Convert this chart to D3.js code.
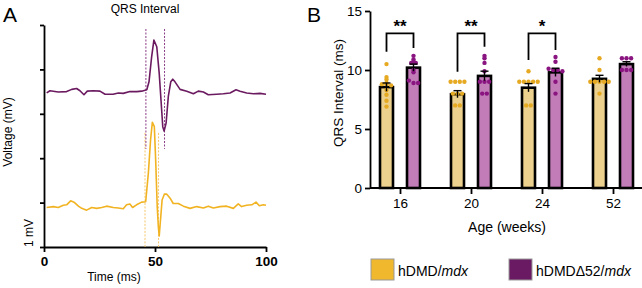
<!DOCTYPE html>
<html lang="en">
<head>
<meta charset="UTF-8">
<title>QRS Interval</title>
<script src="https://d3js.org/d3.v7.min.js"></script>
<style>
  body { margin: 0; background: #fff; }
  svg { font-family: "Liberation Sans", Arial, sans-serif; display: block; }
</style>
</head>
<body>
<div id="chart"></div>
<script>
// ---- panel A: ECG traces, [time ms, voltage mV]
const purpleTrace = [
  [1.2,3.47],[2.7,3.52],[6.4,3.49],[10.2,3.50],[12.5,3.55],[14.7,3.57],[16.2,3.52],[18.0,3.43],
  [19.5,3.51],[22.2,3.52],[25.2,3.51],[27.5,3.44],[31.1,3.44],[33.5,3.47],[35.7,3.46],[38.7,3.50],
  [41.8,3.50],[44.0,3.51],[46.3,3.54],[47.3,3.72],[48.5,4.29],[49.5,4.66],[50.8,4.51],[51.9,3.91],
  [52.7,3.31],[53.5,2.71],[54.1,2.61],[55.0,2.79],[56.0,3.39],[57.1,3.72],[58.0,3.78],[59.0,3.72],
  [61.3,3.55],[64.3,3.51],[67.3,3.45],[69.5,3.51],[71.8,3.49],[74.0,3.43],[77.8,3.44],[80.8,3.45],
  [83.8,3.47],[86.5,3.54],[88.3,3.51],[91.3,3.47],[94.3,3.45],[97.3,3.46],[100,3.44]
];
const orangeTrace = [
  [1.2,0.89],[4.2,0.91],[6.4,0.89],[8.7,0.94],[10.2,0.95],[12.0,1.04],[13.5,1.01],[15.5,0.92],
  [17.0,0.87],[19.2,0.83],[21.5,0.89],[23.7,0.87],[26.0,0.89],[28.2,0.92],[31.2,0.89],[33.5,0.88],
  [35.7,0.86],[37.2,0.95],[38.7,0.97],[39.9,0.89],[41.7,0.95],[44.0,1.01],[45.8,1.02],[47.0,1.66],
  [48.0,2.41],[48.8,2.81],[49.7,2.71],[50.3,1.96],[51.0,0.91],[51.5,0.46],[51.9,0.25],[52.6,0.68],
  [53.2,1.06],[54.2,1.19],[55.3,1.19],[56.8,1.10],[58.2,0.98],[60.5,0.98],[62.8,0.92],[65.8,0.87],
  [68.8,0.91],[71.8,0.88],[74.0,0.92],[76.3,0.88],[79.3,0.91],[82.3,0.92],[85.3,0.87],[87.5,0.97],
  [89.0,0.91],[91.3,0.94],[93.6,0.95],[95.5,1.01],[97.0,0.93],[98.8,0.95],[100,0.94]
];
// QRS markers: [time, from mV, to mV]
const purpleMarks = [[45.9,4.91,2.21],[54.3,4.91,2.21]];
const orangeMarks = [[45.5,2.57,0],[51.6,2.57,0]];
const timeTicks = [0, 50, 100];
const voltTicks = [0, 1, 2, 3, 4, 5];

// ---- panel B: QRS interval by age
const ages = ["16", "20", "24", "52"];
const groups = ["hDMD/mdx", "hDMD\u039452/mdx"];
const meanCtrl = [8.55, 7.95, 8.5, 9.25];
const meanDel  = [10.2, 9.5, 9.8, 10.5];
const semCtrl  = [0.35, 0.3, 0.35, 0.3];
const semDel   = [0.3, 0.4, 0.35, 0.2];
const ptsCtrl = [
  [10.5, 9.4, 9.2, 8.9, 8.8, 8.8, 8.7, 8.3, 7.9, 7.4, 6.9],
  [9.0, 9.0, 9.0, 9.0, 8.0, 8.0, 8.0, 7.0, 7.0],
  [9.9, 9.0, 9.0, 9.0, 9.0, 9.0, 7.0, 7.0],
  [11.0, 10.0, 9.0, 9.0, 9.0, 9.0, 9.0, 8.0]
];
const ptsDel = [
  [11.2, 10.9, 10.7, 10.6, 10.6, 10.0, 9.8, 9.1, 8.9, 8.9],
  [11.2, 11.0, 10.6, 9.9, 9.0, 9.0, 9.0, 8.0, 8.0],
  [11.1, 10.7, 10.1, 10.0, 10.0, 9.9, 9.0, 8.0],
  [11.0, 11.0, 11.0, 10.0, 10.0, 10.0]
];
// significance: age, left leg bottom, right leg bottom, label
const sigAges  = ["16", "20", "24"];
const sigLeft  = [11.55, 9.86, 10.85];
const sigRight = [11.86, 11.97, 11.7];
const sigText  = ["**", "**", "*"];
const intervalTicks = [0, 5, 10, 15];

const W = 642, H = 288;
const svg = d3.select("#chart").append("svg").attr("width", W).attr("height", H);

// ================= panel A =================
const xA = d3.scaleLinear().domain([0, 100]).range([44, 266]);
const yA = d3.scaleLinear().domain([0, 5]).range([247, 25]);

const gA = svg.append("g");
gA.append("g")
  .attr("transform", `translate(0,${yA(0)})`)
  .call(d3.axisBottom(xA).tickValues(timeTicks).tickSize(5).tickSizeOuter(0).tickPadding(4))
  .call(g => g.selectAll("text").attr("font-size", 13.5).attr("font-weight", "bold").attr("fill", "#000"));
gA.append("g")
  .attr("transform", `translate(${xA(0)},0)`)
  .call(d3.axisLeft(yA).tickValues(voltTicks).tickSize(4).tickSizeOuter(0).tickFormat(""));
gA.selectAll(".domain, .tick line").attr("stroke", "#000").attr("stroke-width", 1.8);

function marks(data, color) {
  gA.selectAll(null).data(data).enter().append("line")
    .attr("x1", d => xA(d[0])).attr("x2", d => xA(d[0]))
    .attr("y1", d => yA(d[1])).attr("y2", d => yA(d[2]))
    .attr("stroke", color).attr("stroke-width", 1).attr("stroke-dasharray", "2,1.5");
}
marks(orangeMarks, "#f6c66a");
marks(purpleMarks, "#8a3a86");

const line = d3.line().x(d => xA(d[0])).y(d => yA(d[1]));
gA.append("path").datum(orangeTrace).attr("d", line)
  .attr("fill", "none").attr("stroke", "#f1b322").attr("stroke-width", 1.6).attr("stroke-linejoin", "round");
gA.append("path").datum(purpleTrace).attr("d", line)
  .attr("fill", "none").attr("stroke", "#6b1a60").attr("stroke-width", 1.6).attr("stroke-linejoin", "round");

gA.append("text").attr("x", 3).attr("y", 22).attr("font-size", 21).text("A");
gA.append("text").attr("x", 145).attr("y", 13).attr("text-anchor", "middle").attr("font-size", 12).text("QRS Interval");
gA.append("text").attr("x", 114).attr("y", 281).attr("text-anchor", "middle").attr("font-size", 12).text("Time (ms)");
gA.append("text").attr("transform", "translate(12,132) rotate(-90)").attr("text-anchor", "middle")
  .attr("font-size", 12).text("Voltage (mV)");
gA.append("text").attr("transform", "translate(33,233) rotate(-90)").attr("text-anchor", "middle")
  .attr("font-size", 12).text("1 mV");

// ================= panel B =================
const xB = d3.scalePoint().domain(ages).range([400, 613]);
const yB = d3.scaleLinear().domain([0, 15]).range([188, 11]);
const off = d3.scalePoint().domain(groups).range([-13.5, 13.5]);
const barW = 13;
const fills = ["#ecd08d", "#c27db9"];
const dotC = ["#e6a922", "#8a1581"];

const gB = svg.append("g");
gB.append("g")
  .attr("transform", `translate(370,0)`)
  .call(d3.axisLeft(yB).tickValues(intervalTicks).tickSize(5).tickSizeOuter(0).tickPadding(3))
  .call(g => g.selectAll("text").attr("font-size", 13.5).attr("fill", "#000"));
gB.append("g")
  .attr("transform", `translate(0,${yB(0)})`)
  .call(d3.axisBottom(xB).tickSize(6).tickPadding(4))
  .call(g => g.select(".domain").attr("d", `M370,0H${W}`))
  .call(g => g.selectAll("text").attr("font-size", 13.5).attr("fill", "#000"));
gB.selectAll(".domain, .tick line").attr("stroke", "#000").attr("stroke-width", 1.8);

const bars = [];
ages.forEach((a, i) => {
  bars.push({ a, g: 0, mean: meanCtrl[i], sem: semCtrl[i], pts: ptsCtrl[i] });
  bars.push({ a, g: 1, mean: meanDel[i], sem: semDel[i], pts: ptsDel[i] });
});
const cx = d => xB(d.a) + off(groups[d.g]);

gB.selectAll(".bar").data(bars).enter().append("rect")
  .attr("x", d => cx(d) - barW / 2).attr("width", barW)
  .attr("y", d => yB(d.mean)).attr("height", d => yB(0) - yB(d.mean))
  .attr("fill", d => fills[d.g]).attr("stroke", "#000").attr("stroke-width", 2.6);

// simple beeswarm: rows of nearly equal values spread sideways
const dots = [];
bars.forEach(b => {
  const rows = d3.groups(b.pts, v => Math.round(v * 4) / 4);
  rows.forEach(([, vals]) => {
    vals.forEach((v, k) => {
      dots.push({ x: cx(b) + (k - (vals.length - 1) / 2) * 4.6, v, g: b.g });
    });
  });
});
gB.selectAll(".dot").data(dots).enter().append("circle")
  .attr("cx", d => d.x).attr("cy", d => yB(d.v)).attr("r", 2.2)
  .attr("fill", d => dotC[d.g]);

const eb = gB.selectAll(".eb").data(bars).enter().append("g");
eb.append("line")
  .attr("x1", cx).attr("x2", cx)
  .attr("y1", d => yB(d.mean - d.sem)).attr("y2", d => yB(d.mean + d.sem))
  .attr("stroke", "#000").attr("stroke-width", 1.4);
eb.append("line")
  .attr("x1", d => cx(d) - 4).attr("x2", d => cx(d) + 4)
  .attr("y1", d => yB(d.mean + d.sem)).attr("y2", d => yB(d.mean + d.sem))
  .attr("stroke", "#000").attr("stroke-width", 1.4);

// significance brackets
const sig = sigAges.map((a, i) => ({ a, l: sigLeft[i], r: sigRight[i], t: sigText[i] }));
const sigTop = 13.1;
gB.selectAll(".sig").data(sig).enter().append("path")
  .attr("d", d => {
    const x1 = xB(d.a) + off(groups[0]), x2 = xB(d.a) + off(groups[1]);
    return `M${x1},${yB(d.l)}V${yB(sigTop)}H${x2}V${yB(d.r)}`;
  })
  .attr("fill", "none").attr("stroke", "#000").attr("stroke-width", 1.8);
gB.selectAll(".star").data(sig).enter().append("text")
  .attr("x", d => xB(d.a)).attr("y", yB(sigTop) - 1)
  .attr("text-anchor", "middle").attr("font-size", 17).attr("font-weight", "bold")
  .text(d => d.t);

gB.append("text").attr("x", 307).attr("y", 22).attr("font-size", 21).text("B");
gB.append("text").attr("transform", "translate(343,93) rotate(-90)").attr("text-anchor", "middle")
  .attr("font-size", 13.5).text("QRS Interval (ms)");
gB.append("text").attr("x", 507).attr("y", 232).attr("text-anchor", "middle")
  .attr("font-size", 14).text("Age (weeks)");

// legend
const legX = [371, 509];
const leg = gB.selectAll(".leg").data(groups).enter().append("g")
  .attr("transform", (d, i) => `translate(${legX[i]},259)`);
leg.append("rect").attr("width", 23).attr("height", 21)
  .attr("fill", (d, i) => ["#f0b82d", "#6a1a62"][i]).attr("stroke", "#999").attr("stroke-width", 1);
leg.append("text").attr("x", 27).attr("y", 17).attr("font-size", 14)
  .each(function(d) {
    const parts = d.split("/");
    const t = d3.select(this);
    t.append("tspan").text(parts[0] + "/");
    t.append("tspan").attr("font-style", "italic").text(parts[1]);
  });
</script>
</body>
</html>
